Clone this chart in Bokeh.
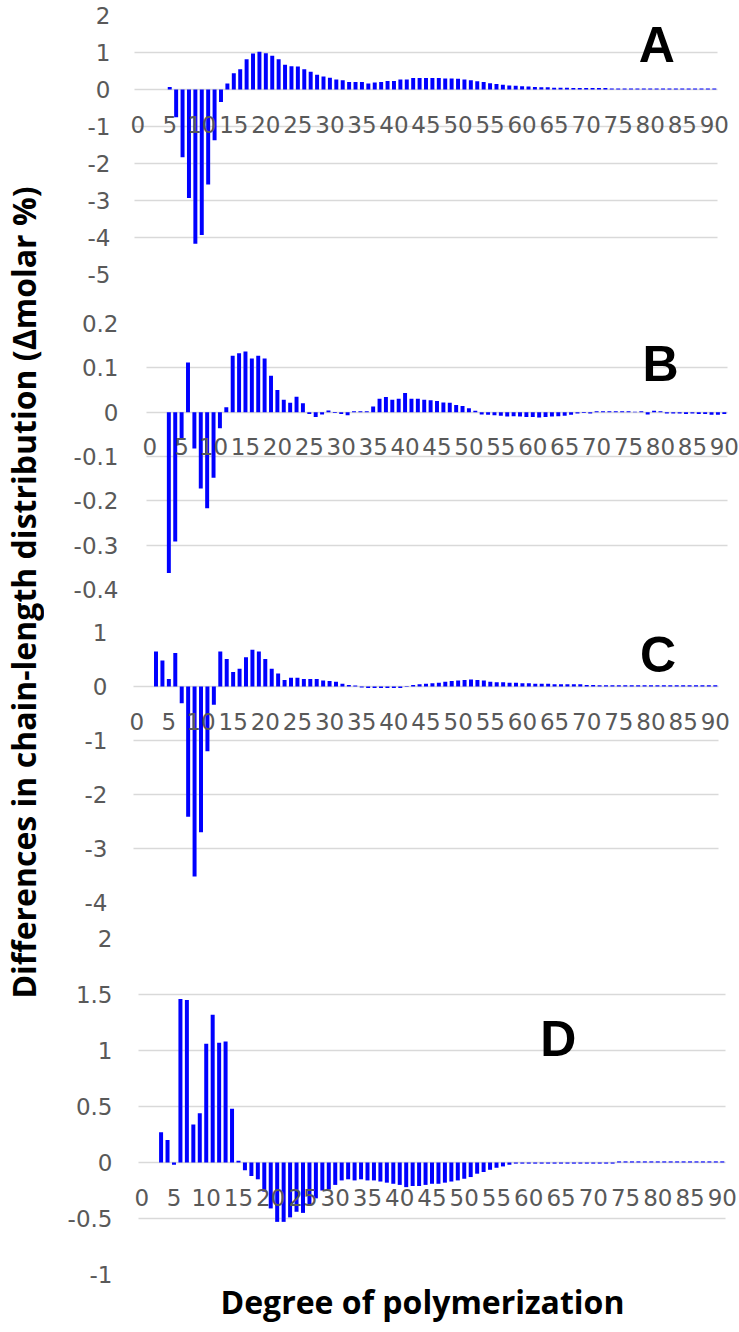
import numpy as np
from bokeh.plotting import figure
from bokeh.layouts import column, row
from bokeh.models import Range1d, FixedTicker, CustomJSTickFormatter, Label, Title
from bokeh.embed import file_html
from bokeh.resources import INLINE

# ---------------- data ----------------
dp = list(range(0, 91))

diff_a = [0, 0, 0, 0, 0, 0.07, -0.75, -1.83, -2.93, -4.17,
          -3.93, -2.57, -1.37, -0.34, 0.16, 0.44, 0.55, 0.82, 0.97, 1.02,
          0.98, 0.91, 0.82, 0.67, 0.63, 0.62, 0.55, 0.48, 0.40, 0.35,
          0.32, 0.27, 0.25, 0.20, 0.20, 0.20, 0.16, 0.19, 0.20, 0.23,
          0.23, 0.27, 0.27, 0.31, 0.31, 0.31, 0.31, 0.31, 0.30, 0.30,
          0.29, 0.27, 0.25, 0.22, 0.20, 0.17, 0.15, 0.13, 0.11, 0.10,
          0.09, 0.08, 0.07, 0.06, 0.06, 0.05, 0.05, 0.05, 0.04, 0.04,
          0.04, 0.04, 0.04, 0.04, 0.03, 0.03, 0.03, 0.03, 0.03, 0.03,
          0.03, 0.03, 0.03, 0.03, 0.03, 0.03, 0.03, 0.03, 0.03, 0.03,
          0.03]

diff_b = [0, 0, 0, -0.363, -0.292, -0.06, 0.112, -0.082, -0.172, -0.217,
          -0.148, -0.036, 0.011, 0.127, 0.133, 0.137, 0.121, 0.127, 0.121, 0.082,
          0.050, 0.028, 0.021, 0.035, 0.020, -0.004, -0.011, -0.005, 0.004, -0.002,
          -0.004, -0.007, 0.002, 0.002, 0.002, 0.013, 0.030, 0.034, 0.028, 0.030,
          0.043, 0.030, 0.030, 0.028, 0.027, 0.025, 0.022, 0.021, 0.016, 0.014,
          0.009, 0.003, -0.005, -0.006, -0.007, -0.008, -0.010, -0.009, -0.010, -0.011,
          -0.011, -0.012, -0.011, -0.010, -0.009, -0.008, -0.006, -0.003, -0.002, -0.003,
          0.002, 0.002, 0.002, 0.002, 0.002, 0.002, 0.001, 0.002, -0.005, 0.003,
          0.002, -0.003, -0.003, -0.003, -0.004, -0.003, -0.004, -0.004, -0.006, -0.006,
          -0.004]

diff_c = [0, 0, 0, 0.65, 0.48, 0.14, 0.62, -0.31, -2.41, -3.52,
          -2.70, -1.20, -0.34, 0.65, 0.51, 0.27, 0.33, 0.54, 0.68, 0.65,
          0.51, 0.33, 0.24, 0.12, 0.16, 0.16, 0.14, 0.14, 0.14, 0.11,
          0.10, 0.09, 0.05, 0.03, 0.02, -0.02, -0.03, -0.03, -0.03, -0.03,
          -0.03, -0.03, -0.01, 0.03, 0.04, 0.05, 0.06, 0.07, 0.09, 0.10,
          0.11, 0.12, 0.13, 0.12, 0.11, 0.09, 0.08, 0.08, 0.07, 0.07,
          0.06, 0.06, 0.05, 0.05, 0.05, 0.04, 0.04, 0.04, 0.04, 0.04,
          0.03, 0.03, 0.025, 0.025, 0.025, 0.025, 0.025, 0.025, 0.025, 0.025,
          0.025, 0.025, 0.025, 0.025, 0.025, 0.025, 0.025, 0.025, 0.025, 0.025,
          0.025]

diff_d = [0, 0, 0, 0.27, 0.20, -0.02, 1.46, 1.45, 0.34, 0.44,
          1.06, 1.32, 1.07, 1.08, 0.48, 0.015, -0.07, -0.12, -0.15, -0.26,
          -0.41, -0.53, -0.53, -0.49, -0.44, -0.45, -0.38, -0.32, -0.25, -0.24,
          -0.20, -0.16, -0.15, -0.16, -0.15, -0.16, -0.16, -0.17, -0.18, -0.19,
          -0.20, -0.22, -0.21, -0.21, -0.20, -0.19, -0.19, -0.18, -0.17, -0.16,
          -0.145, -0.13, -0.10, -0.085, -0.065, -0.047, -0.035, -0.02, -0.01, -0.01,
          -0.01, -0.01, -0.01, -0.01, -0.01, -0.01, -0.01, -0.01, -0.01, -0.01,
          -0.01, -0.01, -0.01, -0.01, 0.01, 0.01, 0.01, 0.01, 0.01, 0.01,
          0.01, 0.01, 0.01, 0.01, 0.01, 0.01, 0.01, 0.01, 0.01, 0.01,
          0.01]

x_ticks = list(range(0, 91, 5))
ticks_a = [-5, -4, -3, -2, -1, 0, 1, 2]
ticks_b = [-0.4, -0.3, -0.2, -0.1, 0, 0.1, 0.2]
ticks_c = [-4, -3, -2, -1, 0, 1]
ticks_d = [-1, -0.5, 0, 0.5, 1, 1.5, 2]
panel_letters = ["A", "B", "C", "D"]
y_title = "Differences in chain-length distribution (\u0394molar %)"
x_title = "Degree of polymerization"

# ---------------- style / layout ----------------
TICK_FONT = "DejaVu Sans"
TICK_SIZE = "23px"
TICK_COLOR = "#595959"
GRID_COLOR = "#d9d9d9"
TITLE_W = 44
PANEL_W = 739 - TITLE_W
ML = 80                       # common left border of every panel (frames are aligned)
FRAME_L = TITLE_W + ML        # page x of the frames' left edge
FRAME_R = 739                 # page x of the frames' right edge
CAT_LO, CAT_HI = -0.5, 90.5   # category band of each Excel-like plot area


def view_range(band_left, band_right):
    """x range so that the category band sits at the given page pixels."""
    s = (band_right - band_left) / (CAT_HI - CAT_LO)
    return (CAT_LO - (band_left - FRAME_L) / s, CAT_HI + (FRAME_R - band_right) / s)


def make_panel(vals, yticks, band, h, mt, mb, ystand, letter, lx, ly):
    lo, hi = view_range(*band)
    p = figure(width=PANEL_W, height=h,
               x_range=Range1d(lo, hi),
               y_range=Range1d(min(yticks), max(yticks)),
               output_backend="svg", toolbar_location=None,
               min_border_left=ML, min_border_right=0,
               min_border_top=mt, min_border_bottom=mb)
    p.outline_line_color = None
    p.background_fill_color = "white"
    p.border_fill_color = "white"

    p.xgrid.visible = False
    try:
        p.ygrid.cross_bounds = (CAT_LO, CAT_HI)
        p.ygrid.grid_line_color = GRID_COLOR
        p.ygrid.grid_line_width = 1.3
    except Exception:
        p.ygrid.visible = False
        p.segment(x0=[CAT_LO] * len(yticks), x1=[CAT_HI] * len(yticks),
                  y0=yticks, y1=yticks, line_color=GRID_COLOR, line_width=1.3)

    p.vbar(x=dp, top=vals, width=0.62, fill_color="#0000ff", line_color=None)

    xa = p.xaxis[0]
    xa.fixed_location = 0
    xa.ticker = FixedTicker(ticks=x_ticks)
    xa.formatter = CustomJSTickFormatter(code="return String(tick)")
    xa.axis_line_color = None
    xa.major_tick_line_color = None
    xa.minor_tick_line_color = None
    xa.major_label_standoff = 20
    xa.major_label_text_font = TICK_FONT
    xa.major_label_text_font_size = TICK_SIZE
    xa.major_label_text_color = TICK_COLOR

    ya = p.yaxis[0]
    ya.ticker = FixedTicker(ticks=yticks)
    ya.formatter = CustomJSTickFormatter(code="return String(tick)")
    ya.axis_line_color = None
    ya.major_tick_line_color = None
    ya.minor_tick_line_color = None
    ya.major_tick_out = 0
    ya.major_tick_in = 0
    ya.major_label_standoff = ystand
    ya.major_label_text_font = TICK_FONT
    ya.major_label_text_font_size = TICK_SIZE
    ya.major_label_text_color = TICK_COLOR

    p.add_layout(Label(x=lx, y=ly, text=letter, text_font="Liberation Sans",
                       text_font_style="bold", text_font_size="50px",
                       text_color="black", text_baseline="alphabetic",
                       text_align="left"))
    return p


pA = make_panel(diff_a, ticks_a, (134, 717), 300, 15, 26, 14, panel_letters[0], 78.2, 1.21)
pB = make_panel(diff_b, ticks_b, (146, 727), 312, 23, 23, 6, panel_letters[1], 77.2, 0.108)
pC = make_panel(diff_c, ticks_c, (133, 718), 310, 20, 20, 17, panel_letters[2], 78.3, 0.59)
pD = make_panel(diff_d, ticks_d, (138, 725), 410, 16, 58, 12, panel_letters[3], 61.8, 1.10)

# x-axis title under panel D
pD.add_layout(Title(text=x_title, align="left", offset=96, standoff=6,
                    text_font="Open Sans", text_font_style="bold",
                    text_font_size="32px", text_color="black"), "below")

# y title figure
pt = figure(width=TITLE_W, height=1332, x_range=Range1d(0, 1), y_range=Range1d(0, 1),
            output_backend="svg", toolbar_location=None, min_border=0,
            x_axis_location=None, y_axis_location=None)
pt.grid.visible = False
pt.outline_line_color = None
pt.add_layout(Label(x=23 / TITLE_W, y=1 - 592 / 1332, text=y_title, angle=np.pi / 2,
                    text_align="center", text_baseline="middle",
                    text_font="Open Sans", text_font_style="bold",
                    text_font_size="32px", text_color="black"))

layout = row(pt, column(pA, pB, pC, pD))

open("out.html", "w").write(file_html(layout, INLINE))
